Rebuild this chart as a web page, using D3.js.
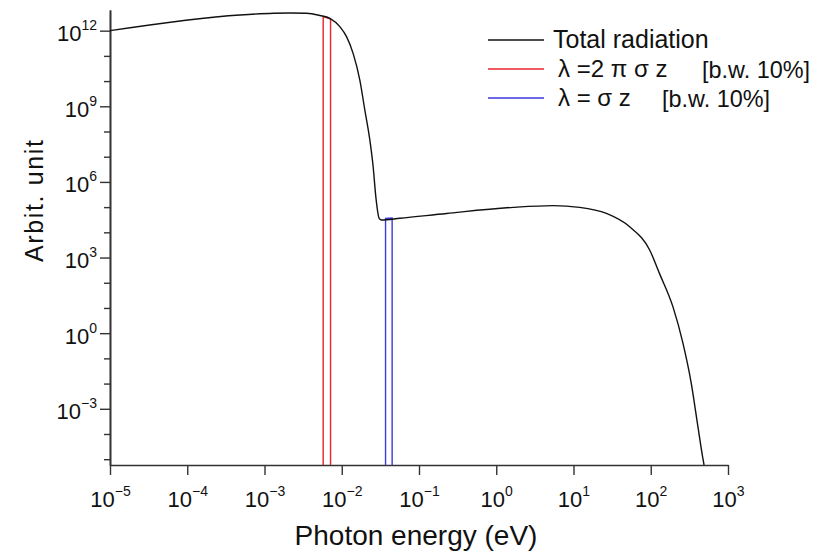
<!DOCTYPE html>
<html>
<head>
<meta charset="utf-8">
<script src="https://cdn.jsdelivr.net/npm/d3@7"></script>
<style>
  body { margin: 0; background: #fff; }
  text { font-family: "Liberation Sans", Arial, sans-serif; fill: #111; }
</style>
</head>
<body>
<div id="chart"></div>
<script>
// Data
var energy = [1.0e-5, 4.81e-4, 1.30e-3, 2.13e-3, 3.51e-3, 5.21e-3, 7.02e-3, 9.44e-3,
    1.153e-2, 1.403e-2, 1.714e-2, 1.99e-2, 2.31e-2, 2.55e-2, 2.76e-2, 3.05e-2, 3.27e-2,
    5.65e-2, 0.227, 1.65, 5.43, 12.0, 26.7, 53.3, 96.8, 130, 194, 261, 335, 408, 473, 490];
var intensity = [1.0e12, 4.2e12, 4.9e12, 5.0e12, 4.9e12, 4.0e12, 3.1e12, 1.45e12,
    5.8e11, 1.26e11, 1.1e10, 7.1e8, 4.6e7, 4.0e6, 2.6e5, 3.6e4, 3.1e4,
    3.6e4, 5.6e4, 9.8e4, 1.15e5, 9.8e4, 5.6e4, 1.66e4, 2.0e3, 2.3e2, 11, 0.40, 1.0e-2, 1.95e-4, 1.07e-5, 5.9e-6];

// bandwidth-limited bands (edges and top values)
var redBandE = [5.75e-3, 7.16e-3];
var redBandI = [3.6e12, 2.9e12];
var blueBandE = [3.69e-2, 4.49e-2];
var blueBandI = [3.6e4, 3.7e4];

var xTickExps = [-5, -4, -3, -2, -1, 0, 1, 2, 3];
var yMajorExps = [-3, 0, 3, 6, 9, 12];
var yMinorExps = [-5, -4, -2, -1, 1, 2, 4, 5, 7, 8, 10, 11];

var legendLabels = ['Total radiation', 'λ =2 π σ z', 'λ = σ z'];

var svgWidth = 821;
var svgHeight = 552;

var margin = { top: 10, right: 93, bottom: 87, left: 110 };
var chartWidth = svgWidth - margin.left - margin.right;
var chartHeight = svgHeight - margin.top - margin.bottom;

var svg = d3.select('#chart')
    .append('svg')
    .attr('width', svgWidth)
    .attr('height', svgHeight);

var chartGroup = svg.append('g')
    .attr('transform', `translate(${margin.left}, ${margin.top})`);

var yMin = Math.pow(10, -5.23);
var yMax = Math.pow(10, 12.82);

var xScale = d3.scaleLog()
    .domain([1e-5, 1e3])
    .range([0, chartWidth]);

var yScale = d3.scaleLog()
    .domain([yMin, yMax])
    .range([chartHeight, 0]);

svg.append('defs').append('clipPath')
    .attr('id', 'plotClip')
    .append('rect')
    .attr('width', chartWidth)
    .attr('height', chartHeight);

// superscript label helper
function powerLabel(sel) {
    sel.each(function(d) {
        var e = Math.round(Math.log10(d));
        var t = d3.select(this);
        t.text(null);
        t.append('tspan').text('10');
        t.append('tspan')
            .attr('dy', -11)
            .style('font-size', '14px')
            .text(e < 0 ? '\u2212' + (-e) : e);
    });
}

// X axis
var xAxis = chartGroup.append('g')
    .attr('transform', `translate(0, ${chartHeight})`)
    .call(d3.axisBottom(xScale)
        .tickValues(xTickExps.map((e) => Math.pow(10, e)))
        .tickSize(10)
        .tickSizeOuter(0));

xAxis.selectAll('text')
    .attr('y', 42)
    .attr('dy', 0)
    .style('font-size', '22px')
    .call(powerLabel);

// Y axis: minor ticks
chartGroup.append('g')
    .call(d3.axisLeft(yScale)
        .tickValues(yMinorExps.map((e) => Math.pow(10, e)))
        .tickSize(6)
        .tickSizeOuter(0)
        .tickFormat(''));

// Y axis: major ticks
var yAxis = chartGroup.append('g')
    .call(d3.axisLeft(yScale)
        .tickValues(yMajorExps.map((e) => Math.pow(10, e)))
        .tickSize(10)
        .tickPadding(3)
        .tickSizeOuter(0));

yAxis.selectAll('text')
    .attr('dy', '0.45em')
    .style('font-size', '22px')
    .call(powerLabel);

chartGroup.selectAll('.domain')
    .attr('stroke', '#333')
    .attr('stroke-width', 1.6);
chartGroup.selectAll('.tick line')
    .attr('stroke', '#333')
    .attr('stroke-width', 1.4);

// Total radiation curve
var pts = energy.map((e, i) => [e, intensity[i]]);

var line = d3.line()
    .x((d) => xScale(d[0]))
    .y((d) => yScale(d[1]))
    .curve(d3.curveMonotoneX);

var plot = chartGroup.append('g')
    .attr('clip-path', 'url(#plotClip)');

function bandPath(es, is) {
    return [[es[0], yMin], [es[0], is[0]], [es[1], is[1]], [es[1], yMin]];
}

var bandLine = d3.line()
    .x((d) => xScale(d[0]))
    .y((d) => yScale(d[1]));

plot.append('path')
    .attr('d', bandLine(bandPath(redBandE, redBandI)))
    .attr('fill', 'none')
    .attr('stroke', '#e8242c')
    .attr('stroke-width', 1.4);

plot.append('path')
    .attr('d', bandLine(bandPath(blueBandE, blueBandI)))
    .attr('fill', 'none')
    .attr('stroke', '#3a3ae0')
    .attr('stroke-width', 1.4);

plot.append('path')
    .attr('d', line(pts))
    .attr('fill', 'none')
    .attr('stroke', '#111')
    .attr('stroke-width', 1.4);

// Axis titles
svg.append('text')
    .attr('x', margin.left + chartWidth / 2 - 3)
    .attr('y', 545)
    .attr('text-anchor', 'middle')
    .style('font-size', '28px')
    .text('Photon energy (eV)');

svg.append('text')
    .attr('transform', 'translate(43, 201) rotate(-90)')
    .attr('text-anchor', 'middle')
    .attr('textLength', 122)
    .attr('lengthAdjust', 'spacing')
    .style('font-size', '25px')
    .text('Arbit. unit');

// Legend
var legendColors = ['#111', '#e8242c', '#3a3ae0'];
var legendY = [40, 69, 98];

var legend = svg.append('g');

legendLabels.forEach((lab, i) => {
    legend.append('line')
        .attr('x1', 488)
        .attr('x2', 544)
        .attr('y1', legendY[i])
        .attr('y2', legendY[i])
        .attr('stroke', legendColors[i])
        .attr('stroke-width', 1.4);
    legend.append('text')
        .attr('x', i === 0 ? 553 : 558)
        .attr('y', legendY[i] + 8)
        .style('font-size', i === 0 ? '25px' : '24px')
        .text(lab);
    if (i > 0) {
        legend.append('text')
            .attr('x', i === 1 ? 702 : 662)
            .attr('y', legendY[i] + 9)
            .attr('textLength', 108)
            .attr('lengthAdjust', 'spacingAndGlyphs')
            .style('font-size', '24px')
            .text('[b.w. 10%]');
    }
});
</script>
</body>
</html>
